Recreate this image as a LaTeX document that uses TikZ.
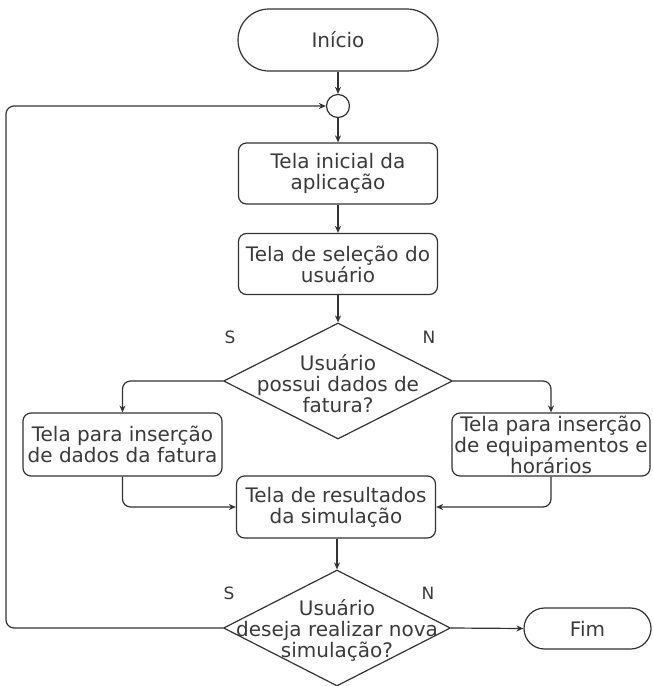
\documentclass[tikz,border=0pt]{standalone}
\usepackage{fontspec}
\setmainfont{DejaVu Sans}
\usetikzlibrary{shapes.geometric,shapes.misc,arrows.meta}
\definecolor{linec}{HTML}{333333}
\definecolor{textc}{HTML}{3A3A3A}
\newcommand{\flowfont}{\fontsize{20pt}{21pt}\selectfont}
\tikzset{
  stepbox/.style={draw=linec, line width=1.2pt, rounded corners=8pt, minimum width=199pt, minimum height=61pt, inner sep=0pt, align=center, text=textc, font=\flowfont},
  termbox/.style={draw=linec, line width=1.2pt, rounded rectangle, minimum width=200pt, minimum height=62pt, inner sep=0pt, align=center, text=textc, font=\flowfont},
  decbox/.style={draw=linec, line width=1.2pt, diamond, inner sep=0pt},
  dectext/.style={align=center, text=textc, font=\flowfont, inner sep=0pt},
  yn/.style={text=textc, font=\fontsize{17pt}{19pt}\selectfont, inner sep=0pt},
  arr/.style={draw=linec, line width=1.2pt, -{Stealth[length=7pt,width=6pt]}},
}
\begin{document}
\begin{tikzpicture}[x=1pt,y=-1pt]
\useasboundingbox (0,0) rectangle (653,686);
\node[termbox] (start) at (338,40) {Início};
\node[draw=linec, line width=1.2pt, circle, minimum size=23pt, inner sep=0pt] (circ) at (338,106) {};
\node[stepbox] (b1) at (338,173.5) {Tela inicial da\\aplicação};
\node[stepbox] (b2) at (338,264) {Tela de seleção do\\usuário};
\node[decbox, minimum width=229pt, minimum height=116pt] (d1) at (338,381) {};
\node[dectext] (t1) at (338,384) {Usuário\\possui dados de\\fatura?};
\node[stepbox, minimum height=63pt] (lb) at (122.5,444.5) {Tela para inserção\\de dados da fatura};
\node[stepbox, minimum height=63pt, minimum width=198pt] (rb) at (551,444.5) {Tela para inserção\\de equipamentos e\\horários};
\node[stepbox, minimum height=62pt] (res) at (336,507) {Tela de resultados\\da simulação};
\node[decbox, minimum width=227pt, minimum height=116pt] (d2) at (337,628) {};
\node[dectext] (t2) at (337,630) {Usuário\\deseja realizar nova\\simulação?};
\node[termbox, minimum width=127pt, minimum height=41pt] (fim) at (587.5,628.5) {Fim};
\node[yn] (s1) at (230,337) {S};
\node[yn] (n1) at (429,337) {N};
\node[yn] (s2) at (229,593) {S};
\node[yn] (n2) at (428,593) {N};
\coordinate (lp) at (6,106);
\draw[arr] (start.south) -- (circ.north);
\draw[arr] (circ.south) -- (b1.north);
\draw[arr] (b1.south) -- (b2.north);
\draw[arr] (b2.south) -- (d1.north);
\draw[arr, rounded corners=8pt] (d1.west) -| (lb.north);
\draw[arr, rounded corners=8pt] (d1.east) -| (rb.north);
\draw[arr, rounded corners=8pt] (lb.south) |- (res.west);
\draw[arr, rounded corners=8pt] (rb.south) |- (res.east);
\draw[arr] (res.south -| d2) -- (d2.north);
\draw[arr] (d2.east) -- (fim.west);
\draw[arr, rounded corners=8pt] (d2.west) -- (d2.west -| lp) |- (circ.west);
\end{tikzpicture}
\end{document}
